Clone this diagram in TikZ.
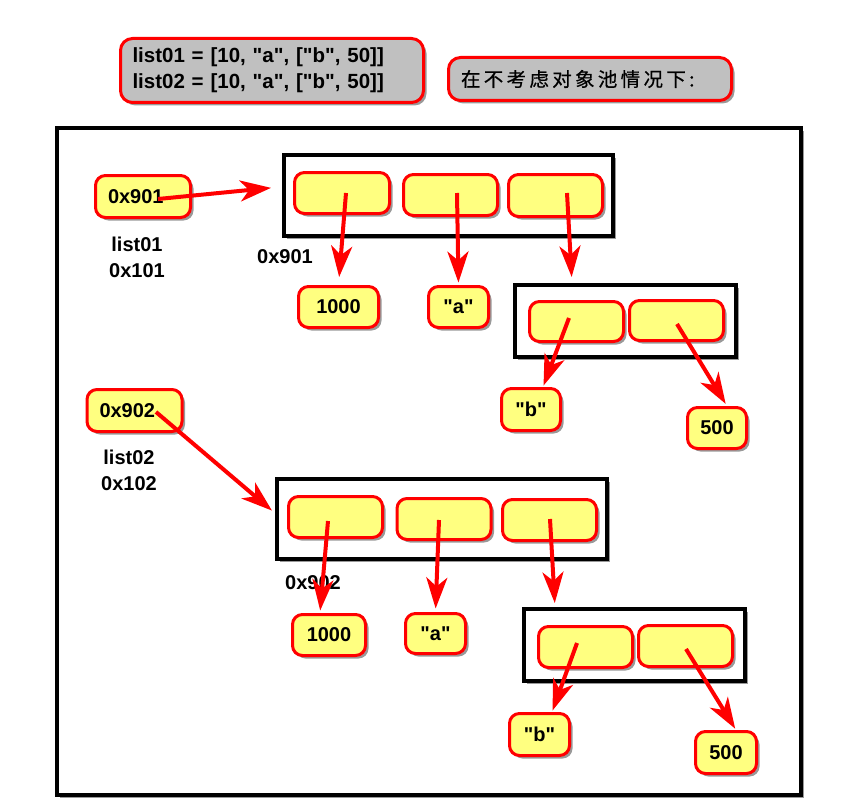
\documentclass[tikz,border=0pt]{standalone}
\usepackage{fontspec}
\setmainfont{Liberation Sans}[Ligatures=TeXOff]
\newfontfamily\cjk{Noto Sans CJK SC}[FakeBold=0.6]
\usetikzlibrary{shadows,arrows.meta,calc}
\definecolor{yel}{RGB}{255,255,128}
\definecolor{notegray}{RGB}{192,192,192}
\begin{document}
\begin{tikzpicture}[x=1pt,y=-1pt,
  shd/.style={drop shadow={shadow xshift=3pt,shadow yshift=-3pt,opacity=0.4,fill=black}},
  note/.style={draw=red,line width=3pt,fill=notegray,rounded corners=12pt,shd,inner ysep=0pt},
  cell/.style={draw=red,line width=3pt,fill=yel,rounded corners=10pt,minimum width=94pt,minimum height=41pt,inner sep=0pt,shd,font=\fontsize{20}{24}\selectfont\bfseries},
  ptr/.style={cell,minimum width=95pt,minimum height=42pt,text width=70pt,inner xsep=12.5pt,align=left},
  frame/.style={draw=black,line width=4pt,fill=white,inner sep=0pt,shd},
  arr/.style={draw=red,line width=4pt,-{Stealth[length=31pt,width=21pt,inset=9pt]}},
  lbl/.style={font=\fontsize{20}{26}\selectfont\bfseries,align=center,inner sep=0pt}]
\fill[white] (0,0) rectangle (844,800);
\useasboundingbox (0,0) rectangle (844,800);

% notes
\node[note,minimum width=303pt,minimum height=64pt,text width=279pt,inner xsep=12pt,align=left,
  font=\fontsize{20.5}{26}\selectfont\bfseries] (n1) at (272,70.5)
  {list01 = [10, "a", ["b", 50]]\\list02 = [10, "a", ["b", 50]]};
\node[note,minimum width=283pt,minimum height=43pt,text width=258pt,inner xsep=12.5pt,align=left,
  font=\fontsize{19.5}{23}\cjk\addfontfeature{LetterSpace=17}] (n2) at (590,79)
  {在不考虑对象池情况下:};

% outer frame
\node[frame,minimum width=744pt,minimum height=667pt] (outer) at (429,461.5) {};

% ---- first structure
\node[ptr] (p1) at (143,196.5) {0x901};
\node[lbl] (lab1) at (137,257) {list01\\0x101};
\node[frame,minimum width=329pt,minimum height=81pt] (l1) at (448.5,195.5) {};
\node[lbl,anchor=west] (lab2) at (257,257) {0x901};
\node[cell,minimum width=95pt] (c11) at (342,193) {};
\node[cell] (c12) at (450.5,195) {};
\node[cell,minimum height=42pt] (c13) at (555.5,195.5) {};
\node[cell,minimum width=80pt] (v11) at (338.5,307) {1000};
\node[cell,minimum width=60pt] (v12) at (458.5,307) {"a"};
\node[frame,minimum width=221pt,minimum height=72pt] (s1) at (625,321) {};
\node[cell,minimum height=40pt] (c14) at (576.5,321.5) {};
\node[cell,minimum height=40pt] (c15) at (676.5,320.5) {};
\node[cell,minimum width=59pt,minimum height=42pt] (v13) at (531,409.5) {"b"};
\node[cell,minimum width=59pt] (v14) at (717,428) {500};

% ---- second structure
\node[ptr] (p2) at (134.5,410.5) {0x902};
\node[lbl] (lab3) at (129,470) {list02\\0x102};
\node[frame,minimum width=330pt,minimum height=80pt] (l2) at (442,519) {};
\node[lbl,anchor=west] (lab4) at (285,583) {0x902};
\node[cell] (c21) at (335.5,517) {};
\node[cell] (c22) at (444,519) {};
\node[cell] (c23) at (549.5,520) {};
\node[cell,minimum width=73pt] (v21) at (329,635) {1000};
\node[cell,minimum width=60pt,minimum height=40pt] (v22) at (435.5,633.5) {"a"};
\node[frame,minimum width=221pt,minimum height=72pt] (s2) at (634.5,645) {};
\node[cell] (c24) at (585.5,647) {};
\node[cell] (c25) at (685.5,646) {};
\node[cell,minimum width=60pt,minimum height=42pt] (v23) at (539.5,734.5) {"b"};
\node[cell,minimum width=61pt,minimum height=42pt] (v24) at (726,752.5) {500};

% ---- arrows, first structure
\draw[arr,shorten >=11pt] ([shift={(15,2.5)}]p1.center) -- (l1.177);
\draw[arr,shorten >=8pt] ([shift={(4,0)}]c11.center) -- (v11.north);
\draw[arr,shorten >=2.5pt] ([shift={(6.5,-2)}]c12.center) -- (v12.north);
\draw[arr,shorten >=6pt] ([shift={(11.5,-2.5)}]c13.center) -- ([shift={(-53,0)}]s1.north);
\draw[arr,shorten >=1.5pt] ([shift={(-7.5,-3.5)}]c14.center) -- ([shift={(12,0)}]v13.north);
\draw[arr,shorten >=2.5pt] ([shift={(0.5,3.5)}]c15.center) -- ([shift={(10,0)}]v14.north);

% ---- arrows, second structure
\draw[arr,shorten >=4pt] ([shift={(21.5,1.5)}]p2.center) -- (l2.178);
\draw[arr,shorten >=2.5pt] ([shift={(-7.5,4)}]c21.center) -- ([shift={(-9,0)}]v21.north);
\draw[arr,shorten >=3.5pt] ([shift={(-5,1)}]c22.center) -- (v22.north);
\draw[arr,shorten >=4pt] ([shift={(0.5,-1)}]c23.center) -- ([shift={(-79.5,0)}]s2.north);
\draw[arr,shorten >=1.5pt] ([shift={(-8.5,-4)}]c24.center) -- ([shift={(12.5,0)}]v23.north);
\draw[arr,shorten >=1.5pt] ([shift={(0.5,3)}]c25.center) -- ([shift={(10,0)}]v24.north);
\end{tikzpicture}
\end{document}
